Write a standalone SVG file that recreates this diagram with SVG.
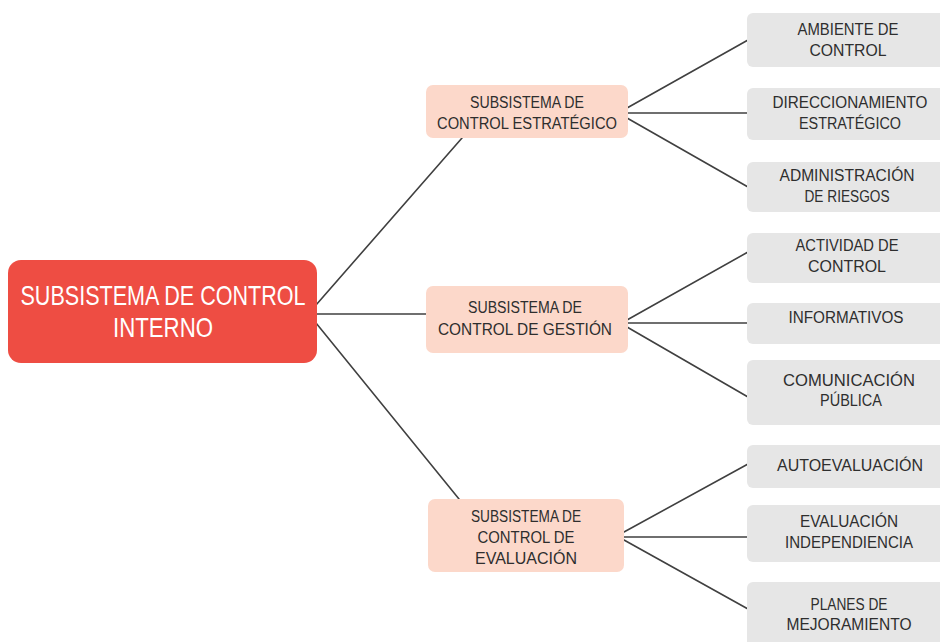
<svg xmlns="http://www.w3.org/2000/svg" width="940" height="642" viewBox="0 0 940 642">
  <style>
    .root rect { fill: #ee4d43; }
    .root text { fill: #ffffff; font-family: "Liberation Sans", Arial, sans-serif; font-size: 28px; text-anchor: middle; }
    .mid rect { fill: #fcd8ca; }
    .leaf rect { fill: #e6e6e6; }
    .mid text, .leaf text { fill: #2e2e2e; font-family: "Liberation Sans", Arial, sans-serif; font-size: 16px; text-anchor: middle; }
    #connectors line { stroke: #404040; stroke-width: 1.6; stroke-linecap: round; }
  </style>
  <rect width="940" height="642" fill="#ffffff"/>

  <!-- connectors -->
  <g id="connectors">
    <line x1="316" y1="305" x2="462" y2="138"/>
    <line x1="316" y1="314" x2="426" y2="314"/>
    <line x1="316" y1="323" x2="459" y2="499"/>

    <line x1="627" y1="108" x2="748" y2="40"/>
    <line x1="627" y1="113" x2="748" y2="113"/>
    <line x1="627" y1="118" x2="748" y2="187"/>

    <line x1="627" y1="320" x2="748" y2="252"/>
    <line x1="627" y1="323" x2="748" y2="323"/>
    <line x1="627" y1="327" x2="748" y2="397"/>

    <line x1="624" y1="532" x2="748" y2="464"/>
    <line x1="624" y1="537" x2="748" y2="537"/>
    <line x1="624" y1="540" x2="748" y2="609"/>
  </g>

  <!-- root -->
  <g id="sci" class="root">
    <rect x="8" y="260" width="309" height="103" rx="13"/>
    <text x="163" y="305" textLength="285" lengthAdjust="spacingAndGlyphs">SUBSISTEMA DE CONTROL</text>
    <text x="163" y="337" textLength="100" lengthAdjust="spacingAndGlyphs">INTERNO</text>
  </g>

  <!-- subsystems -->
  <g id="estrategico" class="mid">
    <rect x="426" y="85" width="202" height="53" rx="7"/>
    <text x="527" y="108" textLength="114" lengthAdjust="spacingAndGlyphs">SUBSISTEMA DE</text>
    <text x="527" y="129" textLength="180" lengthAdjust="spacingAndGlyphs">CONTROL ESTRATÉGICO</text>
  </g>
  <g id="gestion" class="mid">
    <rect x="426" y="286" width="202" height="67" rx="7"/>
    <text x="525" y="313" textLength="114" lengthAdjust="spacingAndGlyphs">SUBSISTEMA DE</text>
    <text x="525" y="335" textLength="174" lengthAdjust="spacingAndGlyphs">CONTROL DE GESTIÓN</text>
  </g>
  <g id="evaluacion" class="mid">
    <rect x="428" y="499" width="196" height="73" rx="7"/>
    <text x="526" y="522" textLength="110" lengthAdjust="spacingAndGlyphs">SUBSISTEMA DE</text>
    <text x="526" y="543" textLength="97" lengthAdjust="spacingAndGlyphs">CONTROL DE</text>
    <text x="526" y="564" textLength="102" lengthAdjust="spacingAndGlyphs">EVALUACIÓN</text>
  </g>

  <!-- components -->
  <g id="ambiente" class="leaf">
    <rect x="747" y="13" width="200" height="54" rx="6"/>
    <text x="848" y="35" textLength="101" lengthAdjust="spacingAndGlyphs">AMBIENTE DE</text>
    <text x="848" y="56" textLength="77" lengthAdjust="spacingAndGlyphs">CONTROL</text>
  </g>
  <g id="direccionamiento" class="leaf">
    <rect x="747" y="88" width="200" height="52" rx="6"/>
    <text x="850" y="108" textLength="155" lengthAdjust="spacingAndGlyphs">DIRECCIONAMIENTO</text>
    <text x="850" y="129" textLength="102" lengthAdjust="spacingAndGlyphs">ESTRATÉGICO</text>
  </g>
  <g id="riesgos" class="leaf">
    <rect x="747" y="162" width="200" height="50" rx="6"/>
    <text x="847" y="181" textLength="135" lengthAdjust="spacingAndGlyphs">ADMINISTRACIÓN</text>
    <text x="847" y="202" textLength="85" lengthAdjust="spacingAndGlyphs">DE RIESGOS</text>
  </g>
  <g id="actividad" class="leaf">
    <rect x="747" y="233" width="200" height="50" rx="6"/>
    <text x="847" y="251" textLength="103" lengthAdjust="spacingAndGlyphs">ACTIVIDAD DE</text>
    <text x="847" y="272" textLength="78" lengthAdjust="spacingAndGlyphs">CONTROL</text>
  </g>
  <g id="informativos" class="leaf">
    <rect x="747" y="303" width="200" height="41" rx="6"/>
    <text x="846" y="323" textLength="115" lengthAdjust="spacingAndGlyphs">INFORMATIVOS</text>
  </g>
  <g id="comunicacion" class="leaf">
    <rect x="747" y="360" width="200" height="65" rx="6"/>
    <text x="849" y="386" textLength="132" lengthAdjust="spacingAndGlyphs">COMUNICACIÓN</text>
    <text x="851" y="406" textLength="62" lengthAdjust="spacingAndGlyphs">PÚBLICA</text>
  </g>
  <g id="autoevaluacion" class="leaf">
    <rect x="747" y="445" width="200" height="43" rx="6"/>
    <text x="850" y="471" textLength="146" lengthAdjust="spacingAndGlyphs">AUTOEVALUACIÓN</text>
  </g>
  <g id="independiente" class="leaf">
    <rect x="747" y="505" width="200" height="57" rx="6"/>
    <text x="849" y="527" textLength="98" lengthAdjust="spacingAndGlyphs">EVALUACIÓN</text>
    <text x="849" y="548" textLength="128" lengthAdjust="spacingAndGlyphs">INDEPENDIENCIA</text>
  </g>
  <g id="mejoramiento" class="leaf">
    <rect x="747" y="582" width="200" height="66" rx="6"/>
    <text x="849" y="610" textLength="77" lengthAdjust="spacingAndGlyphs">PLANES DE</text>
    <text x="849" y="630" textLength="125" lengthAdjust="spacingAndGlyphs">MEJORAMIENTO</text>
  </g>
</svg>
